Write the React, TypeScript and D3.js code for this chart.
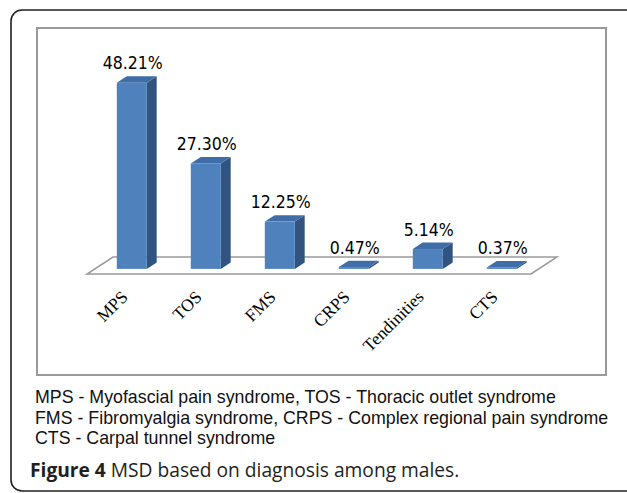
import React from 'react';
import * as d3 from 'd3';

// values (percent of males per diagnosis)
const categories = ['MPS', 'TOS', 'FMS', 'CRPS', 'Tendinities', 'CTS'];
const values = [48.21, 27.3, 12.25, 0.47, 5.14, 0.37];
const valueLabels = ['48.21%', '27.30%', '12.25%', '0.47%', '5.14%', '0.37%'];

const legendLines = [
  'MPS - Myofascial pain syndrome, TOS - Thoracic outlet syndrome',
  'FMS - Fibromyalgia syndrome, CRPS - Complex regional pain syndrome',
  'CTS - Carpal tunnel syndrome',
];
const captionBold = 'Figure 4';
const captionText = ' MSD based on diagnosis among males.';

export default function App() {
  const width = 627;
  const height = 493;

  // floor of the 3d plot: front edge + depth vector
  const floorFrontY = 274;
  const floorX0 = 87;
  const floorX1 = 531;
  const depth = { x: 26, y: -17 };

  const xScale = d3.scaleBand<string>().domain(categories).range([floorX0, floorX1]).padding(0);
  const barW = 30;
  const barFront = 0.3; // fraction of floor depth where bar front sits
  const barDepth = 0.38;
  const off = { x: depth.x * barFront, y: depth.y * barFront };
  const dep = { x: depth.x * barDepth, y: depth.y * barDepth };
  const baseY = floorFrontY + off.y;

  const hScale = d3.scaleLinear().domain([0, 50]).range([0, 193]);

  const front = '#4f81bd';
  const top = '#3f6da8';
  const side = '#31537f';

  const floorPts = [
    [floorX0, floorFrontY],
    [floorX1, floorFrontY],
    [floorX1 + depth.x, floorFrontY + depth.y],
    [floorX0 + depth.x, floorFrontY + depth.y],
  ];
  const poly = (pts: number[][]) => pts.map(p => p.join(',')).join(' ');

  return (
    <div style={{ position: 'absolute', left: 0, top: 0 }}>
      <svg width={width} height={height} style={{ display: 'block', background: '#fff' }}>
        <rect x={11} y={10} width={660} height={481} rx={11} fill="#fff" stroke="#231f20" strokeWidth={1.6} />
        <rect x={37} y={28} width={569} height={347} fill="#fff" stroke="#9a9a9a" strokeWidth={2} />

        <polygon points={poly(floorPts)} fill="#fff" stroke="#9a9a9a" strokeWidth={1.5} />

        {categories.map((c, i) => {
          const h = hScale(values[i]);
          const x0 = (xScale(c) as number) + xScale.bandwidth() / 2 - barW / 2 + off.x;
          const x1 = x0 + barW;
          const yT = baseY - h;
          const cx = (x0 + x1) / 2;
          return (
            <g key={c}>
              <polygon
                points={poly([[x1, baseY], [x1 + dep.x, baseY + dep.y], [x1 + dep.x, yT + dep.y], [x1, yT]])}
                fill={side}
              />
              <rect x={x0} y={yT} width={barW} height={h} fill={front} />
              <polygon
                points={poly([[x0, yT], [x1, yT], [x1 + dep.x, yT + dep.y], [x0 + dep.x, yT + dep.y]])}
                fill={top}
              />
              <text
                x={cx + 1}
                y={yT + dep.y - 7}
                textAnchor="middle"
                fontFamily="'DejaVu Sans Condensed', 'DejaVu Sans', sans-serif"
                fontStretch="condensed"
                fontSize={17.5}
                fill="#000"
              >
                {valueLabels[i]}
              </text>
              <text
                transform={`translate(${cx - 3},${298}) rotate(-45)`}
                textAnchor="end"
                fontFamily="'Liberation Serif', 'Times New Roman', serif"
                fontSize={17.5}
                fill="#000"
              >
                {c}
              </text>
            </g>
          );
        })}

        {legendLines.map((l, i) => (
          <text
            key={i}
            x={35}
            y={403 + i * 20.5}
            fontFamily="'Liberation Sans', Arial, sans-serif"
            fontSize={17.8}
            fill="#111"
          >
            {l}
          </text>
        ))}

        <text x={30} y={477} fontFamily="'Open Sans', sans-serif" fontSize={19.2} fill="#231f20">
          <tspan fontWeight="bold">{captionBold}</tspan>
          <tspan>{captionText}</tspan>
        </text>
      </svg>
    </div>
  );
}
